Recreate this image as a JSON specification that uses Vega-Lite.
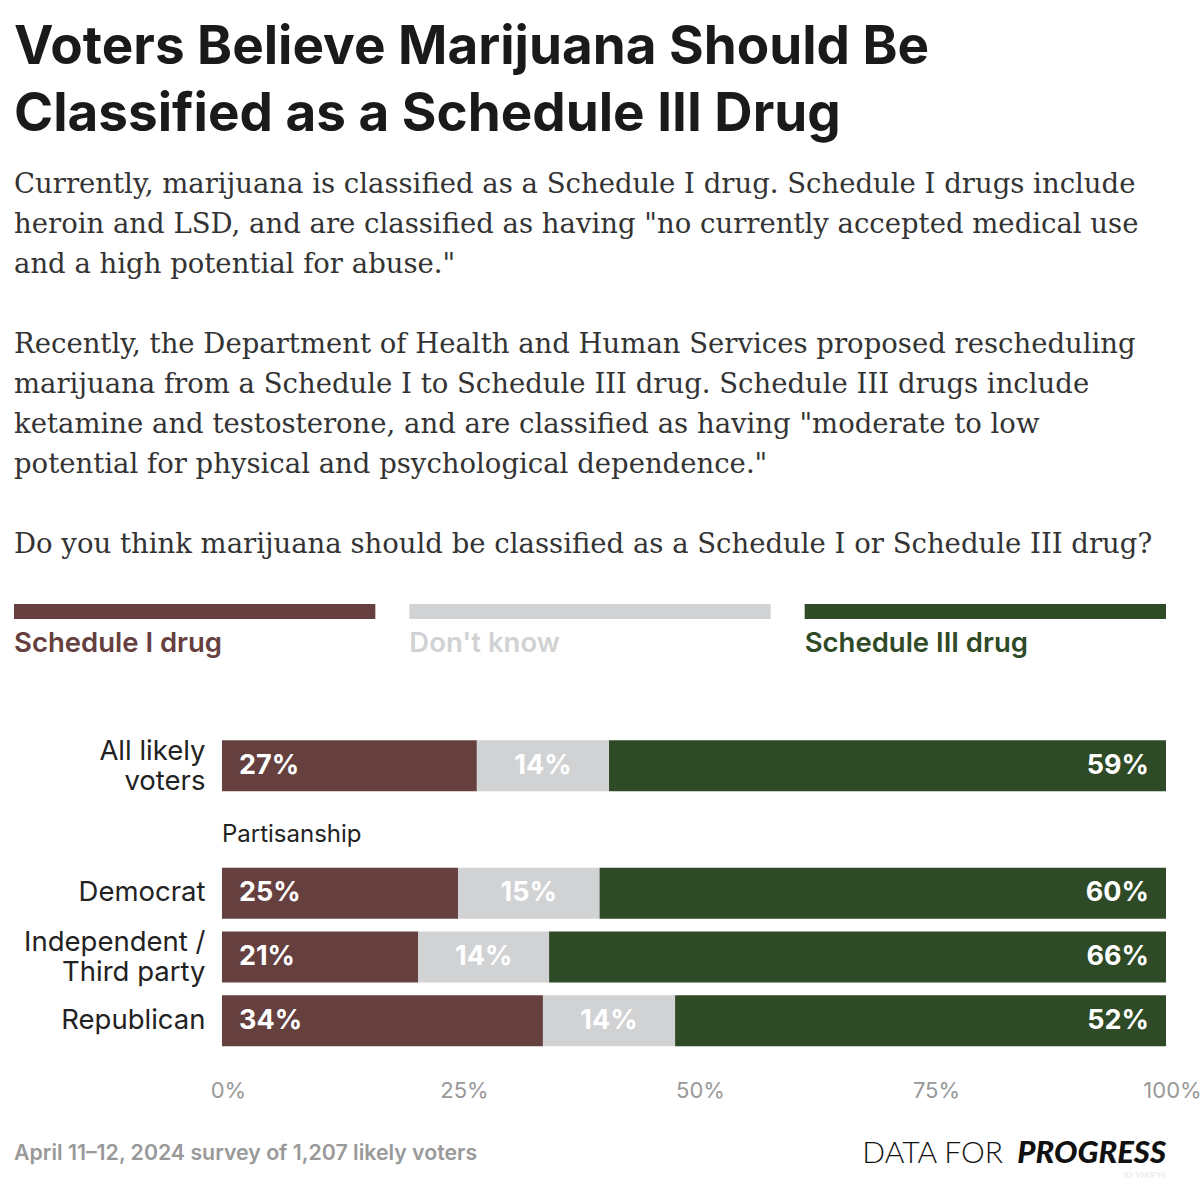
{
  "$schema": "https://vega.github.io/schema/vega-lite/v6.json",
  "background": "white",
  "padding": {"left": 14, "top": 21, "right": 34, "bottom": 0},
  "config": {"view": {"stroke": null}, "font": "Inter"},
  "datasets": {
    "survey": [
      {"group": "All likely voters", "answer": "Schedule I drug", "rank": 1, "value": 0.27},
      {"group": "All likely voters", "answer": "Don't know", "rank": 2, "value": 0.14},
      {"group": "All likely voters", "answer": "Schedule III drug", "rank": 3, "value": 0.59},
      {"group": "Democrat", "answer": "Schedule I drug", "rank": 1, "value": 0.25},
      {"group": "Democrat", "answer": "Don't know", "rank": 2, "value": 0.15},
      {"group": "Democrat", "answer": "Schedule III drug", "rank": 3, "value": 0.60},
      {"group": "Independent / Third party", "answer": "Schedule I drug", "rank": 1, "value": 0.21},
      {"group": "Independent / Third party", "answer": "Don't know", "rank": 2, "value": 0.14},
      {"group": "Independent / Third party", "answer": "Schedule III drug", "rank": 3, "value": 0.66},
      {"group": "Republican", "answer": "Schedule I drug", "rank": 1, "value": 0.34},
      {"group": "Republican", "answer": "Don't know", "rank": 2, "value": 0.14},
      {"group": "Republican", "answer": "Schedule III drug", "rank": 3, "value": 0.52}
    ]
  },
  "title": {
    "text": ["Voters Believe Marijuana Should Be", "Classified as a Schedule III Drug"],
    "subtitle": [
      "Currently, marijuana is classified as a Schedule I drug. Schedule I drugs include",
      "heroin and LSD, and are classified as having \"no currently accepted medical use",
      "and a high potential for abuse.\"",
      "\u200b",
      "Recently, the Department of Health and Human Services proposed rescheduling",
      "marijuana from a Schedule I to Schedule III drug. Schedule III drugs include",
      "ketamine and testosterone, and are classified as having \"moderate to low",
      "potential for physical and psychological dependence.\"",
      "\u200b",
      "Do you think marijuana should be classified as a Schedule I or Schedule III drug?"
    ],
    "anchor": "start",
    "font": "Inter",
    "fontSize": 53,
    "fontWeight": 700,
    "color": "#1a1a1a",
    "lineHeight": 67,
    "subtitleFont": "DejaVu Serif",
    "subtitleFontSize": 27.5,
    "subtitleColor": "#333333",
    "subtitleLineHeight": 40,
    "subtitlePadding": 29,
    "offset": 46
  },
  "spacing": 76,
  "vconcat": [
    {
      "width": 1152,
      "height": 45.5,
      "data": {"name": "survey"},
      "transform": [{"filter": "datum.group === 'All likely voters'"}],
      "encoding": {
        "x": {"field": "answer", "type": "nominal", "scale": {"domain": ["Schedule I drug", "Don't know", "Schedule III drug"], "paddingInner": 0.086, "paddingOuter": 0}, "axis": null},
        "color": {"field": "answer", "type": "nominal", "scale": {"domain": ["Schedule I drug", "Don't know", "Schedule III drug"], "range": ["#65403f", "#d1d2d4", "#2f4a26"]}, "legend": null}
      },
      "layer": [
        {
          "mark": {"type": "rect"},
          "encoding": {
            "y": {"datum": "bar", "type": "nominal", "scale": {"domain": ["bar", "label"], "paddingInner": 0.508, "paddingOuter": 0}, "axis": null}
          }
        },
        {
          "mark": {"type": "text", "align": "left", "baseline": "middle", "dy": 2, "fontSize": 27.5, "fontWeight": 600, "font": "Inter"},
          "encoding": {
            "x": {"field": "answer", "type": "nominal", "bandPosition": 0},
            "y": {"datum": "label", "type": "nominal"},
            "text": {"field": "answer"}
          }
        }
      ]
    },
    {
      "spacing": 36,
      "vconcat": [
        {
          "width": 1152,
          "height": 318.5,
          "encoding": {
            "y": {
              "field": "group", "type": "nominal",
              "scale": {"domain": ["All likely voters", "Partisanship", "Democrat", "Independent / Third party", "Republican"], "paddingInner": 0.2, "paddingOuter": 0.1},
              "axis": {
                "title": null, "domain": false, "ticks": false, "labelPadding": -191, "labelAlign": "right",
                "labelFontSize": 27.5, "labelColor": "#222222", "labelFont": "Inter", "labelLineHeight": 30, "labelLimit": 0,
                "labelOffset": {"condition": {"test": "datum.value === 'All likely voters' || datum.value === 'Independent / Third party'", "value": -14}, "value": 0},
                "labelExpr": "datum.value === 'All likely voters' ? ['All likely', 'voters'] : datum.value === 'Independent / Third party' ? ['Independent /', 'Third party'] : datum.value === 'Partisanship' ? '' : datum.value"
              }
            }
          },
          "layer": [
            {
              "data": {"name": "survey"},
              "mark": {"type": "bar"},
              "encoding": {
                "x": {
                  "field": "value", "type": "quantitative", "stack": "normalize",
                  "scale": {"domain": [-0.2203, 1], "nice": false, "zero": false},
                  "axis": {"values": [0, 0.25, 0.5, 0.75, 1], "format": ".0%", "title": null, "domain": false, "ticks": false, "grid": false, "labelFlush": false, "labelPadding": 28, "labelFontSize": 22, "labelColor": "#999999", "labelFont": "Inter", "labelOffset": 6}
                },
                "color": {"field": "answer", "type": "nominal", "legend": null},
                "order": {"field": "rank"}
              }
            },
            {
              "data": {"name": "survey"},
              "mark": {"type": "text", "align": "left", "baseline": "middle", "dx": 17, "fontSize": 27, "fontWeight": 700, "color": "white", "font": "Inter"},
              "encoding": {
                "x": {"field": "value", "type": "quantitative", "stack": "normalize", "bandPosition": 0},
                "detail": {"field": "answer"},
                "order": {"field": "rank"},
                "text": {"condition": {"test": "datum.answer === 'Schedule I drug'", "field": "value", "type": "quantitative", "format": ".0%"}, "value": ""}
              }
            },
            {
              "data": {"name": "survey"},
              "mark": {"type": "text", "align": "center", "baseline": "middle", "fontSize": 27, "fontWeight": 700, "color": "white", "font": "Inter"},
              "encoding": {
                "x": {"field": "value", "type": "quantitative", "stack": "normalize", "bandPosition": 0.5},
                "detail": {"field": "answer"},
                "order": {"field": "rank"},
                "text": {"condition": {"test": "datum.answer === \"Don't know\"", "field": "value", "type": "quantitative", "format": ".0%"}, "value": ""}
              }
            },
            {
              "data": {"name": "survey"},
              "mark": {"type": "text", "align": "right", "baseline": "middle", "dx": -17, "fontSize": 27, "fontWeight": 700, "color": "white", "font": "Inter"},
              "encoding": {
                "x": {"field": "value", "type": "quantitative", "stack": "normalize", "bandPosition": 1},
                "detail": {"field": "answer"},
                "order": {"field": "rank"},
                "text": {"condition": {"test": "datum.answer === 'Schedule III drug'", "field": "value", "type": "quantitative", "format": ".0%"}, "value": ""}
              }
            },
            {
              "data": {"values": [{"group": "Partisanship", "note": "Partisanship"}]},
              "mark": {"type": "text", "align": "left", "baseline": "middle", "dy": 5, "fontSize": 24, "color": "#222222", "font": "Inter"},
              "encoding": {
                "x": {"datum": 0, "type": "quantitative"},
                "text": {"field": "note"}
              }
            }
          ]
        },
        {
          "width": 1152,
          "height": 30,
          "data": {"values": [
            {"part": "source", "side": "left", "text": "April 11–12, 2024 survey of 1,207 likely voters"},
            {"part": "brand1", "side": "right", "text": "DATA FOR"},
            {"part": "brand2", "side": "right", "text": "PROGRESS"},
            {"part": "id", "side": "right", "text": "ID: VMJFY6"}
          ]},
          "encoding": {
            "x": {"field": "side", "type": "nominal", "scale": {"type": "point", "domain": ["left", "right"], "padding": 0}, "axis": null},
            "text": {"field": "text"}
          },
          "layer": [
            {"transform": [{"filter": "datum.part === 'source'"}], "mark": {"type": "text", "align": "left", "baseline": "middle", "fontSize": 21.3, "fontWeight": 600, "color": "#999999", "font": "Inter"}},
            {"transform": [{"filter": "datum.part === 'brand1'"}], "mark": {"type": "text", "align": "right", "baseline": "middle", "dx": -163, "fontSize": 30, "fontWeight": 300, "color": "#111111", "font": "Lato"}},
            {"transform": [{"filter": "datum.part === 'brand2'"}], "mark": {"type": "text", "align": "right", "baseline": "middle", "fontSize": 31, "fontWeight": 900, "fontStyle": "italic", "color": "#111111", "font": "Lato"}},
            {"transform": [{"filter": "datum.part === 'id'"}], "mark": {"type": "text", "align": "right", "baseline": "middle", "dy": 22, "fontSize": 8, "color": "#e6e6e6", "font": "Lato"}}
          ]
        }
      ]
    }
  ]
}
